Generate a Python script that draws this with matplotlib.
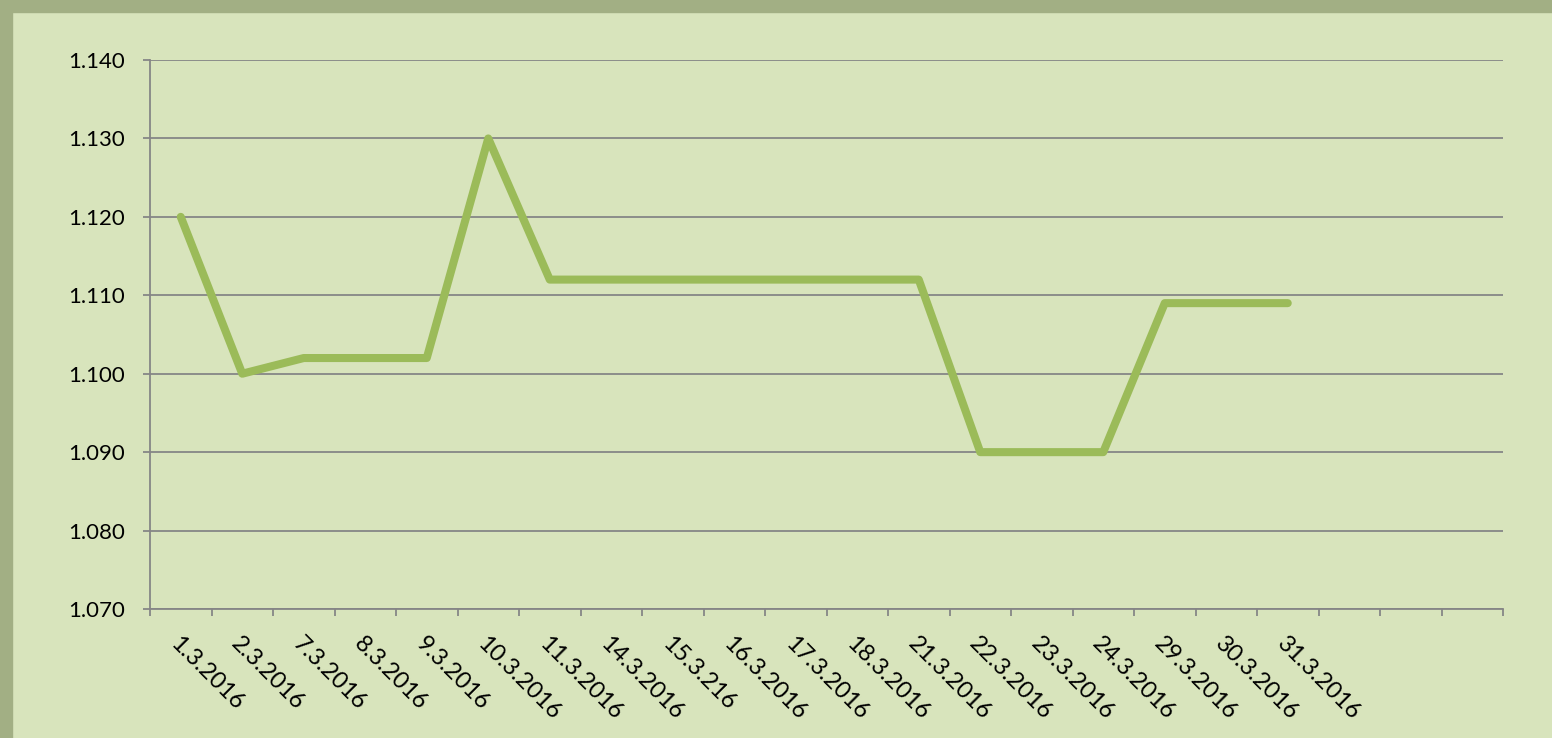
import matplotlib
matplotlib.use("Agg")
from matplotlib import pyplot as plt
from matplotlib.patches import Rectangle
from matplotlib.transforms import ScaledTranslation
import numpy as np

# dates and values
dates = ["1.3.2016", "2.3.2016", "7.3.2016", "8.3.2016", "9.3.2016",
         "10.3.2016", "11.3.2016", "14.3.2016", "15.3.216", "16.3.2016",
         "17.3.2016", "18.3.2016", "21.3.2016", "22.3.2016", "23.3.2016",
         "24.3.2016", "29.3.2016", "30.3.2016", "31.3.2016"]
rates = [1.120, 1.100, 1.102, 1.102, 1.102,
         1.130, 1.112, 1.112, 1.112, 1.112,
         1.112, 1.112, 1.112, 1.090, 1.090,
         1.090, 1.109, 1.109, 1.109]
n_slots = 22  # axis has three empty categories at the end
y_ticks = [1.070, 1.080, 1.090, 1.100, 1.110, 1.120, 1.130, 1.140]

plt.rcParams["font.family"] = ["Lato", "DejaVu Sans"]

bg = "#D8E4BC"
fig = plt.figure(figsize=(15.52, 7.38), dpi=100)
fig.patch.set_facecolor(bg)

# darker frame on top and left
fig.patches.append(Rectangle((0, 1 - 12 / 738), 1, 12 / 738, transform=fig.transFigure,
                             color="#A2AF84", zorder=0))
fig.patches.append(Rectangle((0, 0), 12 / 1552, 1, transform=fig.transFigure,
                             color="#A2AF84", zorder=0))

ax = fig.add_axes([150 / 1552, 1 - 609 / 738, (1503 - 150) / 1552, (609 - 60) / 738])
ax.set_facecolor(bg)

x = np.arange(len(rates))
ax.plot(x, rates, color="#9BBB59", linewidth=5.8, solid_joinstyle="round",
        solid_capstyle="round", zorder=3)

ax.set_xlim(-0.5, n_slots - 0.5)
ax.set_ylim(1.070, 1.140)
ax.set_yticks(y_ticks)
ax.set_yticklabels(["%.3f" % v for v in y_ticks], fontsize=16)
ax.yaxis.grid(True, color="#868686", linewidth=1.3)
ax.set_axisbelow(True)

# category boundaries get tick marks, labels sit at category centres
ax.set_xticks(np.arange(-0.5, n_slots, 1.0))
ax.set_xticklabels([])
ax.set_xticks(x, minor=True)
ax.set_xticklabels(dates, minor=True, rotation=-45, ha="left", va="top",
                   rotation_mode="anchor", fontsize=17)
shift = ScaledTranslation(5 / 100, 0, fig.dpi_scale_trans)
for lbl in ax.get_xticklabels(minor=True):
    lbl.set_transform(lbl.get_transform() + shift)
ax.tick_params(axis="x", which="minor", length=0, pad=17)
ax.tick_params(axis="x", which="major", length=5, width=1.3, color="#868686")
ax.tick_params(axis="y", length=5, width=1.3, color="#868686", pad=13)

for side in ["top", "right"]:
    ax.spines[side].set_visible(False)
for side in ["left", "bottom"]:
    ax.spines[side].set_color("#868686")
    ax.spines[side].set_linewidth(1.3)

fig.savefig("out.png", dpi=100, facecolor=bg)
